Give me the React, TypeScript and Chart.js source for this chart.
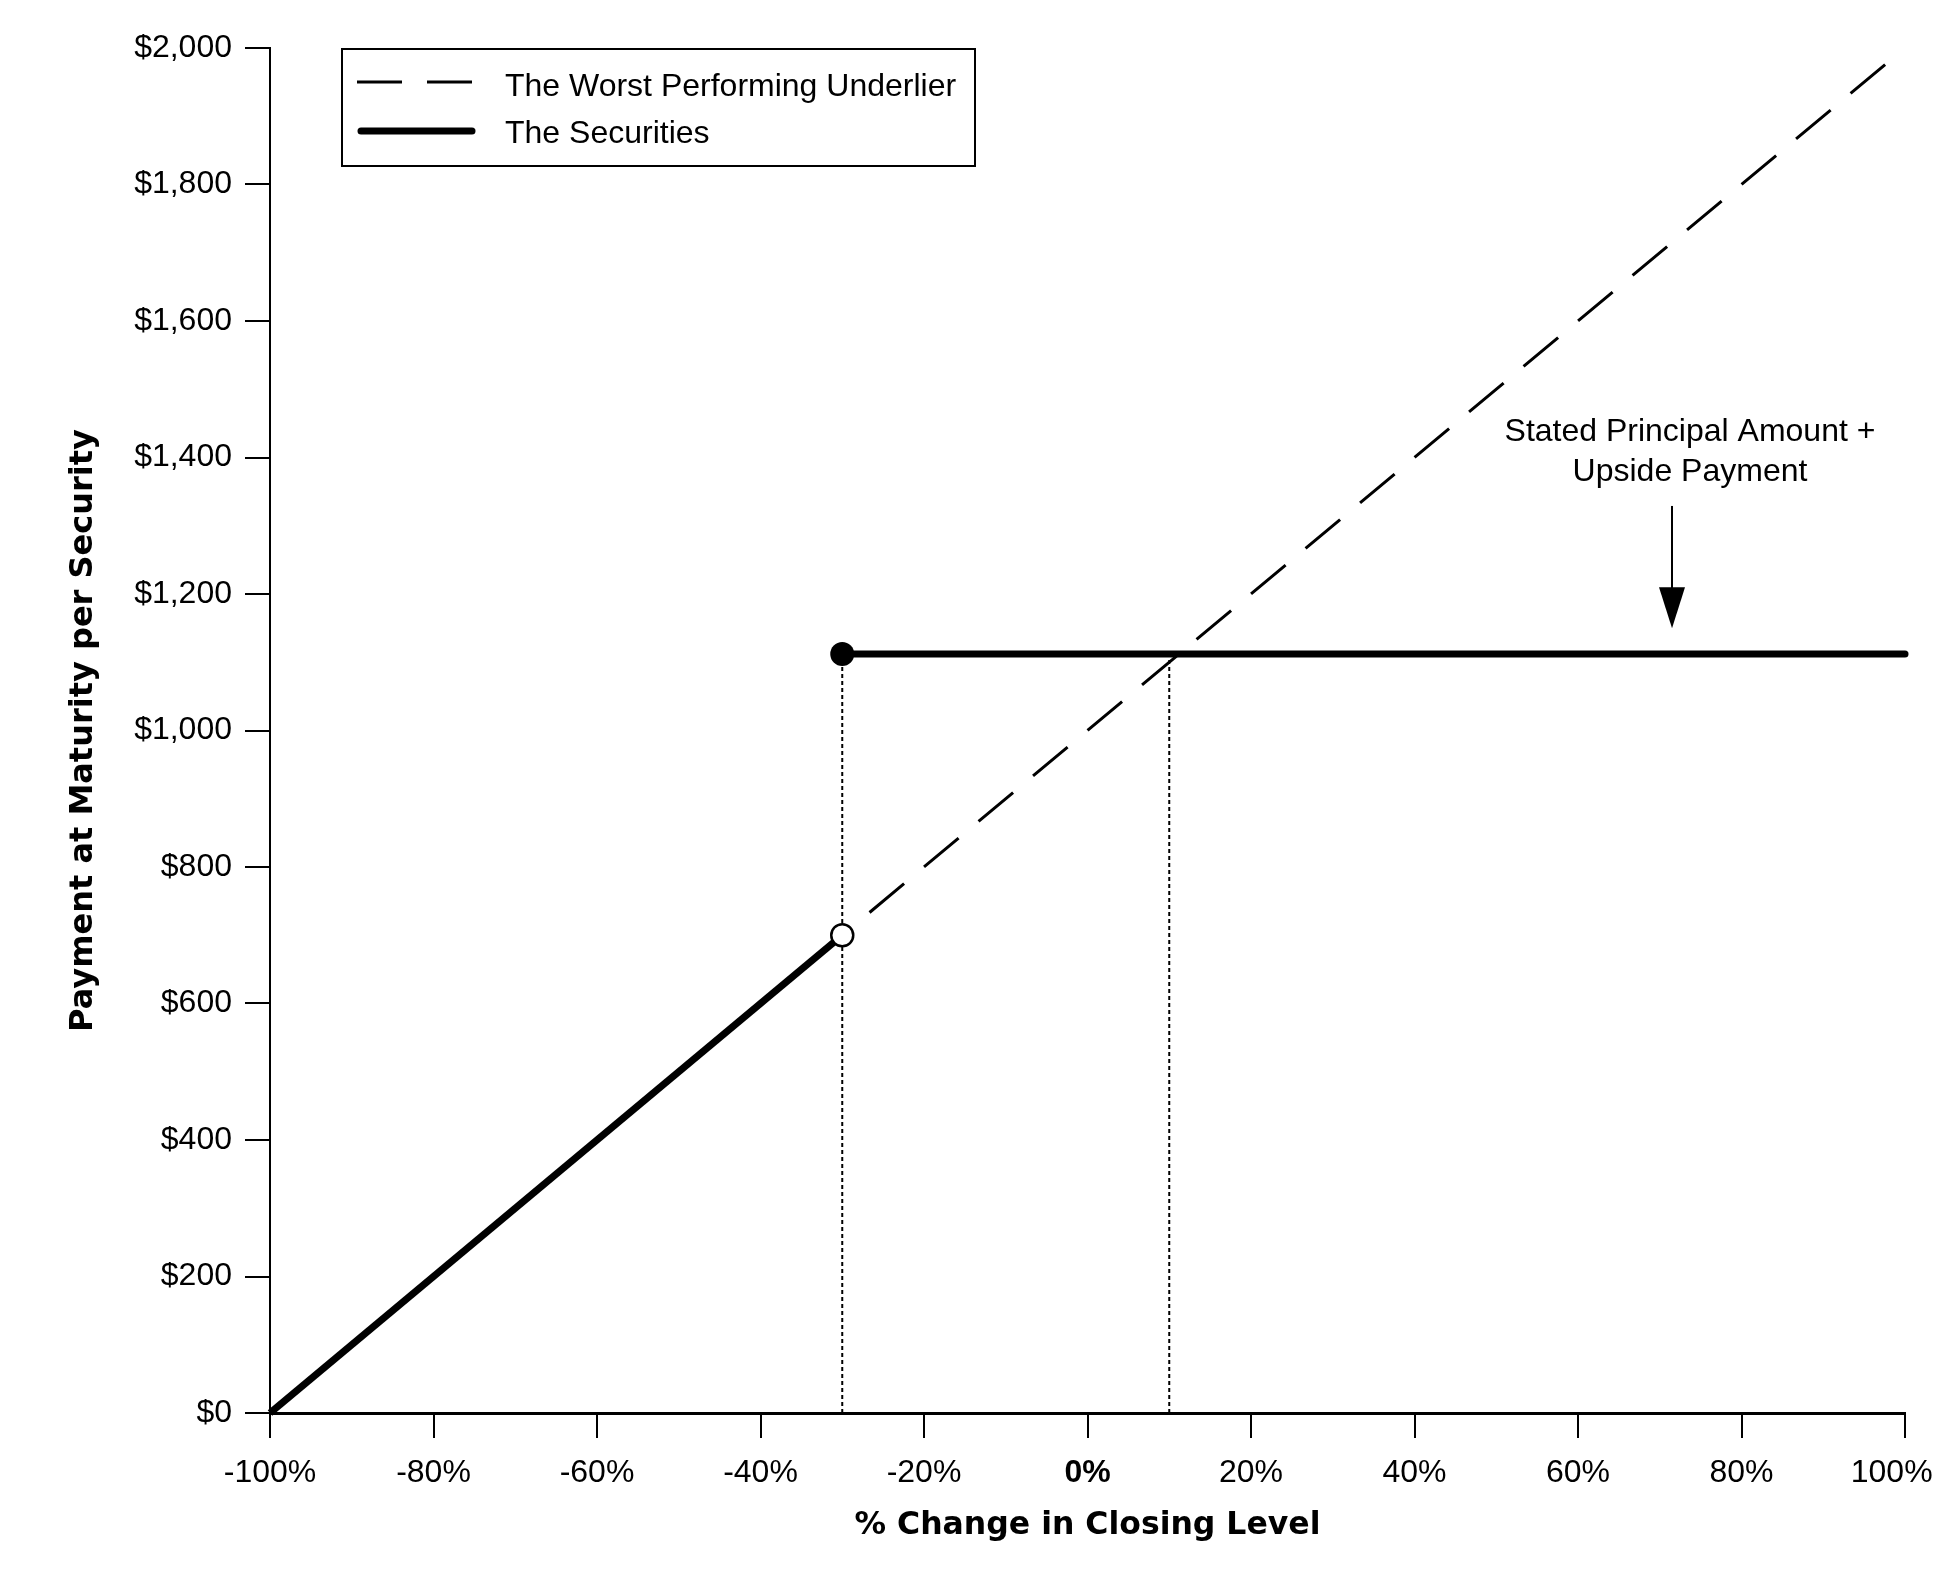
import React, { useEffect, useRef } from 'react';
import { Chart, registerables } from 'chart.js';

Chart.register(...registerables);

const FONT = '"Liberation Sans", Arial, Helvetica, sans-serif';
const TITLE_FONT = '"DejaVu Sans", "Liberation Sans", Arial, sans-serif';

// ---- Data ----
const xMin = -100;
const xMax = 100;
const xStep = 20;
const yMin = 0;
const yMax = 2000;
const yStep = 200;

const underlierX = [-100, 100];
const underlierY = [0, 2000];

const securitiesLowX = [-100, -30];
const securitiesLowY = [0, 700];
const securitiesHighX = [-30, 100];
const securitiesHighY = [1112, 1112];

const barrierLevel = -30;
const breakEvenLevel = 10;
const capPayment = 1112;
const barrierPayment = 700;

const legendLabels = ['The Worst Performing Underlier', 'The Securities'];
const xTitle = '% Change in Closing Level';
const yTitle = 'Payment at Maturity per Security';
const noteLines = ['Stated Principal Amount +', 'Upside Payment'];
const noteX = 73.7;
const noteY = 1437;
const arrowX = 71.5;
const arrowTopY = 1329;
const arrowTipY = 1150;

const pts = (xs: number[], ys: number[]) => xs.map((x, i) => ({ x, y: ys[i] }));

const overlayPlugin = {
  id: 'overlay',
  afterDatasetsDraw(chart: any) {
    const { ctx, scales } = chart;
    const xs = scales.x;
    const ys = scales.y;
    ctx.save();
    // Legend box
    const bx = 342, by = 49, bw = 633, bh = 117;
    ctx.fillStyle = '#fff';
    ctx.fillRect(bx, by, bw, bh);
    ctx.strokeStyle = '#000';
    ctx.lineWidth = 2;
    ctx.strokeRect(bx, by, bw, bh);
    // entry 1 dashed
    ctx.beginPath();
    ctx.setLineDash([45, 25]);
    ctx.lineWidth = 3;
    ctx.lineCap = 'butt';
    ctx.moveTo(357, 82);
    ctx.lineTo(475, 82);
    ctx.stroke();
    // entry 2 solid
    ctx.beginPath();
    ctx.setLineDash([]);
    ctx.lineWidth = 7;
    ctx.lineCap = 'round';
    ctx.moveTo(361, 131);
    ctx.lineTo(472, 131);
    ctx.stroke();
    ctx.fillStyle = '#000';
    ctx.font = `32px ${FONT}`;
    ctx.textAlign = 'left';
    ctx.textBaseline = 'middle';
    ctx.fillText(legendLabels[0], 505, 87);
    ctx.fillText(legendLabels[1], 505, 134);

    // Annotation text
    ctx.textAlign = 'center';
    const tx = xs.getPixelForValue(noteX);
    const ty = ys.getPixelForValue(noteY);
    noteLines.forEach((line, i) => ctx.fillText(line, tx, ty + i * 40));

    // Arrow
    const ax = xs.getPixelForValue(arrowX);
    const aTop = ys.getPixelForValue(arrowTopY);
    const aTip = ys.getPixelForValue(arrowTipY);
    ctx.beginPath();
    ctx.lineWidth = 2;
    ctx.lineCap = 'butt';
    ctx.moveTo(ax, aTop);
    ctx.lineTo(ax, aTip - 30);
    ctx.stroke();
    ctx.beginPath();
    ctx.moveTo(ax - 13, aTip - 41);
    ctx.lineTo(ax + 13, aTip - 41);
    ctx.lineTo(ax, aTip);
    ctx.closePath();
    ctx.fill();
    ctx.restore();
  },
};

export default function App() {
  const ref = useRef<HTMLCanvasElement | null>(null);

  useEffect(() => {
    if (!ref.current) return;
    const chart = new Chart(ref.current, {
      type: 'scatter',
      data: {
        datasets: [
          {
            label: 'open',
            data: pts([barrierLevel], [barrierPayment]),
            showLine: false,
            pointRadius: 11,
            pointBackgroundColor: '#fff',
            pointBorderColor: '#000',
            pointBorderWidth: 2.5,
            clip: false,
          } as any,
          {
            label: 'filled',
            data: pts([barrierLevel], [capPayment]),
            showLine: false,
            pointRadius: 12,
            pointBackgroundColor: '#000',
            pointBorderColor: '#000',
            pointBorderWidth: 0,
            clip: false,
          },
          {
            label: legendLabels[1],
            data: pts(securitiesLowX, securitiesLowY),
            showLine: true,
            borderColor: '#000',
            borderWidth: 7,
            pointRadius: 0,
            borderCapStyle: 'butt',
            clip: false,
          },
          {
            label: legendLabels[1] + ' high',
            data: pts(securitiesHighX, securitiesHighY),
            showLine: true,
            borderColor: '#000',
            borderWidth: 7,
            pointRadius: 0,
            borderCapStyle: 'round',
            clip: false,
          },
          {
            label: 'dot1',
            data: pts([barrierLevel, barrierLevel], [0, capPayment]),
            showLine: true,
            borderColor: '#000',
            borderWidth: 2,
            borderDash: [4, 3],
            pointRadius: 0,
            clip: false,
          },
          {
            label: 'dot2',
            data: pts([breakEvenLevel, breakEvenLevel], [0, capPayment]),
            showLine: true,
            borderColor: '#000',
            borderWidth: 2,
            borderDash: [4, 3],
            pointRadius: 0,
            clip: false,
          },
          {
            label: legendLabels[0],
            data: pts(underlierX, underlierY),
            showLine: true,
            borderColor: '#000',
            borderWidth: 3,
            borderDash: [45, 26],
            pointRadius: 0,
            clip: false,
          },
        ],
      },
      options: {
        animation: false,
        responsive: false,
        devicePixelRatio: 1,
        layout: { padding: { top: 48, right: 34, left: 0, bottom: 0 } },
        plugins: {
          legend: { display: false },
          tooltip: { enabled: false },
        },
        scales: {
          x: {
            type: 'linear',
            min: xMin,
            max: xMax,
            afterFit: (s: any) => {
              s.height = 162;
              s.paddingLeft = 0;
              s.paddingRight = 0;
            },
            ticks: {
              stepSize: xStep,
              color: '#000',
              padding: 16,
              maxRotation: 0,
              autoSkip: false,
              font: (c: any) => ({
                family: FONT,
                size: 32,
                weight: c.tick && c.tick.value === 0 ? 'bold' : 'normal',
              }),
              callback: (v: any) => (v === xMax ? `${v}%   ` : `${v}%`),
            },
            grid: {
              drawOnChartArea: false,
              drawTicks: true,
              tickLength: 25,
              color: '#000',
              lineWidth: 2,
            },
            border: { display: true, color: '#000', width: 3 },
            title: {
              display: true,
              text: xTitle,
              color: '#000',
              font: { family: TITLE_FONT, size: 31.5, weight: 'bold' },
              padding: { top: 0, bottom: 30 },
            },
          },
          y: {
            type: 'linear',
            min: yMin,
            max: yMax,
            afterFit: (s: any) => {
              s.width = 270;
            },
            ticks: {
              stepSize: yStep,
              color: '#000',
              padding: 13,
              font: { family: FONT, size: 32 },
              callback: (v: any) => '$' + Number(v).toLocaleString('en-US'),
            },
            grid: {
              drawOnChartArea: false,
              drawTicks: true,
              tickLength: 25,
              color: '#000',
              lineWidth: 2,
            },
            border: { display: true, color: '#000', width: 2 },
            title: {
              display: true,
              text: yTitle,
              color: '#000',
              font: { family: TITLE_FONT, size: 32, weight: 'bold' },
              padding: { top: 64, bottom: 0 },
            },
          },
        },
      },
      plugins: [overlayPlugin],
    } as any);
    return () => chart.destroy();
  }, []);

  return (
    <div style={{ position: 'absolute', left: 0, top: 0, width: 1939, height: 1575, background: '#fff' }}>
      <canvas ref={ref} width={1939} height={1575} style={{ width: 1939, height: 1575, display: 'block' }} />
    </div>
  );
}
